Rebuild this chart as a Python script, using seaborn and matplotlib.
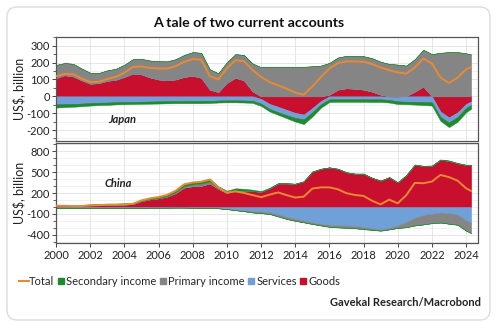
import numpy as np
import matplotlib
matplotlib.use("Agg")
import matplotlib.pyplot as plt
import seaborn as sns
from matplotlib.lines import Line2D
from matplotlib.patches import FancyBboxPatch
from matplotlib.transforms import IdentityTransform
from matplotlib.ticker import MultipleLocator, FixedLocator

sns.set_theme(style="white")
plt.rcParams['font.family'] = ['Lato', 'DejaVu Sans']

# half-yearly observations (4-quarter rolling sums, US$ bn)
periods = list(np.arange(2000.0, 2024.01, 0.5)) + [2024.3]

jp_goods = [108, 125, 118, 95, 75, 78, 92, 98, 115, 135,
            130, 112, 100, 95, 100, 115, 122, 110, 40, 25,
            80, 110, 95, 30, -15, -45, -62, -80, -98, -108,
            -70, -28, 10, 40, 48, 45, 40, 28, 10, -3,
            -5, 2, 28, 58, 0, -90, -125, -95, -45, -30]
jp_services = [-48, -46, -45, -43, -40, -38, -37, -35, -34, -33,
               -32, -31, -30, -29, -28, -28, -27, -27, -27, -25,
               -24, -24, -25, -26, -28, -30, -32, -32, -30, -29,
               -25, -20, -18, -18, -18, -18, -18, -18, -18, -18,
               -25, -32, -33, -34, -35, -32, -30, -28, -25, -22]
jp_primary = [78, 72, 75, 70, 65, 60, 62, 65, 72, 85,
              92, 100, 108, 112, 120, 130, 140, 148, 120, 112,
              122, 140, 150, 165, 172, 175, 175, 175, 172, 175,
              178, 182, 188, 190, 192, 195, 198, 198, 195, 192,
              188, 180, 192, 218, 250, 258, 262, 262, 255, 248]
jp_secondary = [-19, -18, -17, -16, -15, -14, -14, -13, -13, -13,
                -13, -13, -13, -13, -13, -13, -14, -14, -13, -12,
                -12, -12, -12, -13, -14, -15, -16, -18, -22, -28,
                -25, -20, -16, -15, -15, -15, -15, -16, -16, -16,
                -16, -15, -16, -18, -20, -24, -28, -28, -25, -22]
jp_total = [119, 133, 131, 106, 85, 86, 103, 115, 140, 174,
            177, 168, 165, 165, 179, 204, 221, 217, 120, 100,
            166, 214, 208, 156, 115, 85, 65, 45, 22, 10,
            58, 114, 164, 197, 207, 207, 205, 192, 171, 155,
            142, 135, 171, 224, 195, 112, 79, 111, 160, 174]

cn_goods = [28, 27, 26, 25, 30, 34, 36, 34, 36, 42,
            85, 110, 125, 150, 200, 280, 300, 305, 340, 260,
            205, 240, 235, 230, 220, 270, 340, 340, 335, 370,
            510, 550, 570, 550, 500, 480, 480, 420, 380, 430,
            355, 460, 610, 590, 594, 680, 665, 630, 605, 600]
cn_services = [-6, -6, -6, -6, -6, -7, -8, -8, -9, -9,
               -9, -9, -9, -9, -8, -8, -10, -12, -15, -18,
               -25, -35, -45, -58, -65, -75, -105, -140, -170, -195,
               -220, -240, -257, -262, -266, -272, -290, -305, -319, -300,
               -265, -215, -155, -115, -98, -80, -86, -110, -190, -225]
cn_primary = [-10, -11, -12, -12, -12, -11, -10, -9, -8, -6,
              -3, 0, 3, 6, 12, 20, 25, 30, 25, 5,
              -5, -10, -15, -20, -23, -25, -30, -32, -28, -24,
              -22, -23, -25, -28, -30, -30, -25, -20, -18, -20,
              -35, -75, -110, -135, -134, -143, -154, -145, -150, -150]
cn_secondary = [6, 7, 7, 8, 10, 12, 14, 16, 18, 20,
                22, 24, 25, 27, 30, 35, 38, 40, 45, 35,
                30, 30, 28, 20, 10, 8, 5, 3, 0, -2,
                -3, -4, -5, -5, -5, -5, -5, -5, -5, -3,
                -2, 0, 2, 3, 4, 5, 5, 5, 5, 5]
cn_total = [18, 17, 15, 15, 22, 28, 32, 33, 37, 47,
            95, 125, 144, 174, 234, 327, 353, 363, 395, 282,
            205, 225, 203, 172, 142, 178, 210, 171, 137, 149,
            265, 283, 283, 255, 199, 173, 160, 90, 38, 107,
            53, 170, 347, 343, 366, 462, 430, 380, 270, 230]

series_names = ["Total", "Secondary income", "Primary income", "Services", "Goods"]
year_ticks = list(range(2000, 2025, 2))
jp_yticks = [-200, -100, 0, 100, 200, 300]
cn_yticks = [-400, -100, 200, 500, 800]

C_GOODS = "#c8102e"
C_SERV = "#70a0d8"
C_PRIM = "#858585"
C_SEC = "#1f8a2e"
C_TOT = "#ea8a30"

fig = plt.figure(figsize=(5, 3.23), dpi=100)
fig.patch.set_facecolor("white")

ax1 = fig.add_axes([0.112, 0.5635, 0.843, 0.321])
ax2 = fig.add_axes([0.112, 0.2477, 0.843, 0.309])

x = np.asarray(periods, float)


def draw(ax, goods, serv, prim, sec, total):
    pos = np.zeros(len(x))
    neg = np.zeros(len(x))
    for vals, col in [(goods, C_GOODS), (serv, C_SERV), (prim, C_PRIM), (sec, C_SEC)]:
        v = np.asarray(vals, float)
        p = np.clip(v, 0, None)
        q = np.clip(v, None, 0)
        ax.fill_between(x, pos, pos + p, color=col, lw=0.3, edgecolor=col, zorder=2)
        ax.fill_between(x, neg, neg + q, color=col, lw=0.3, edgecolor=col, zorder=2)
        pos = pos + p
        neg = neg + q
    sns.lineplot(x=x, y=np.asarray(total, float), ax=ax, color=C_TOT, lw=1.4, zorder=3)


draw(ax1, jp_goods, jp_services, jp_primary, jp_secondary, jp_total)
draw(ax2, cn_goods, cn_services, cn_primary, cn_secondary, cn_total)

for ax, yt, ylim, minor in [(ax1, jp_yticks, (-265, 350), 50), (ax2, cn_yticks, (-517, 918), 100)]:
    ax.set_xlim(2000, 2024.67)
    ax.set_ylim(*ylim)
    ax.set_facecolor("white")
    ax.yaxis.set_major_locator(FixedLocator(yt))
    ax.yaxis.set_minor_locator(MultipleLocator(minor))
    ax.xaxis.set_major_locator(FixedLocator(year_ticks))
    ax.set_yticklabels([str(v) for v in yt])
    ax.grid(True, which="major", color="#e2e2e2", lw=0.6, zorder=0)
    ax.grid(True, which="minor", axis="y", color="#ececec", lw=0.5, zorder=0)
    ax.set_axisbelow(True)
    for s in ax.spines.values():
        s.set_color("#555555")
        s.set_linewidth(0.9)
    ax.tick_params(axis="y", which="major", left=True, length=3, width=0.7,
                   color="#444444", labelsize=8, pad=1.5, labelcolor="#222222")
    ax.tick_params(axis="y", which="minor", left=True, length=2, width=0.6, color="#444444")
    ax.set_ylabel("US$, billion", fontsize=9, labelpad=1, color="#222222")
    ax.set_xlabel("")

ax1.tick_params(axis="x", bottom=False, labelbottom=False)
ax2.tick_params(axis="x", bottom=True, length=3, width=0.7, color="#444444",
                labelsize=8, pad=2, labelcolor="#222222")
ax2.set_xticklabels([str(v) for v in year_ticks])

ax1.text(2003.9, -137, "Japan", fontsize=8, fontweight="bold", fontstyle="italic",
         ha="center", va="center", color="#222222")
ax2.text(2003.65, 344, "China", fontsize=8, fontweight="bold", fontstyle="italic",
         ha="center", va="center", color="#222222")

fig.text(0.498, 0.930, "A tale of two current accounts", ha="center", va="center",
         fontsize=10.2, fontweight="bold", color="#111111")

handles = [Line2D([0], [0], marker="_", color=C_TOT, ls="none", markersize=9, mew=1.5),
           Line2D([0], [0], marker="s", color=C_SEC, ls="none", markersize=4.2),
           Line2D([0], [0], marker="s", color=C_PRIM, ls="none", markersize=4.2),
           Line2D([0], [0], marker="s", color=C_SERV, ls="none", markersize=4.2),
           Line2D([0], [0], marker="s", color=C_GOODS, ls="none", markersize=4.2)]
fig.legend(handles, series_names, loc="center left", bbox_to_anchor=(0.042, 0.13),
           ncol=5, frameon=False, fontsize=8, handlelength=0.55, handletextpad=0.2,
           columnspacing=0.3, borderaxespad=0, borderpad=0)

fig.text(0.962, 0.062, "Gavekal Research/Macrobond", ha="right", va="center",
         fontsize=8, fontweight="bold", color="#222222")

border = FancyBboxPatch((7, 3), 483, 313, boxstyle="round,pad=0,rounding_size=10",
                        transform=IdentityTransform(), facecolor="none",
                        edgecolor="#dcdcdc", lw=1.0)
fig.add_artist(border)

fig.savefig("out.png", dpi=100)
